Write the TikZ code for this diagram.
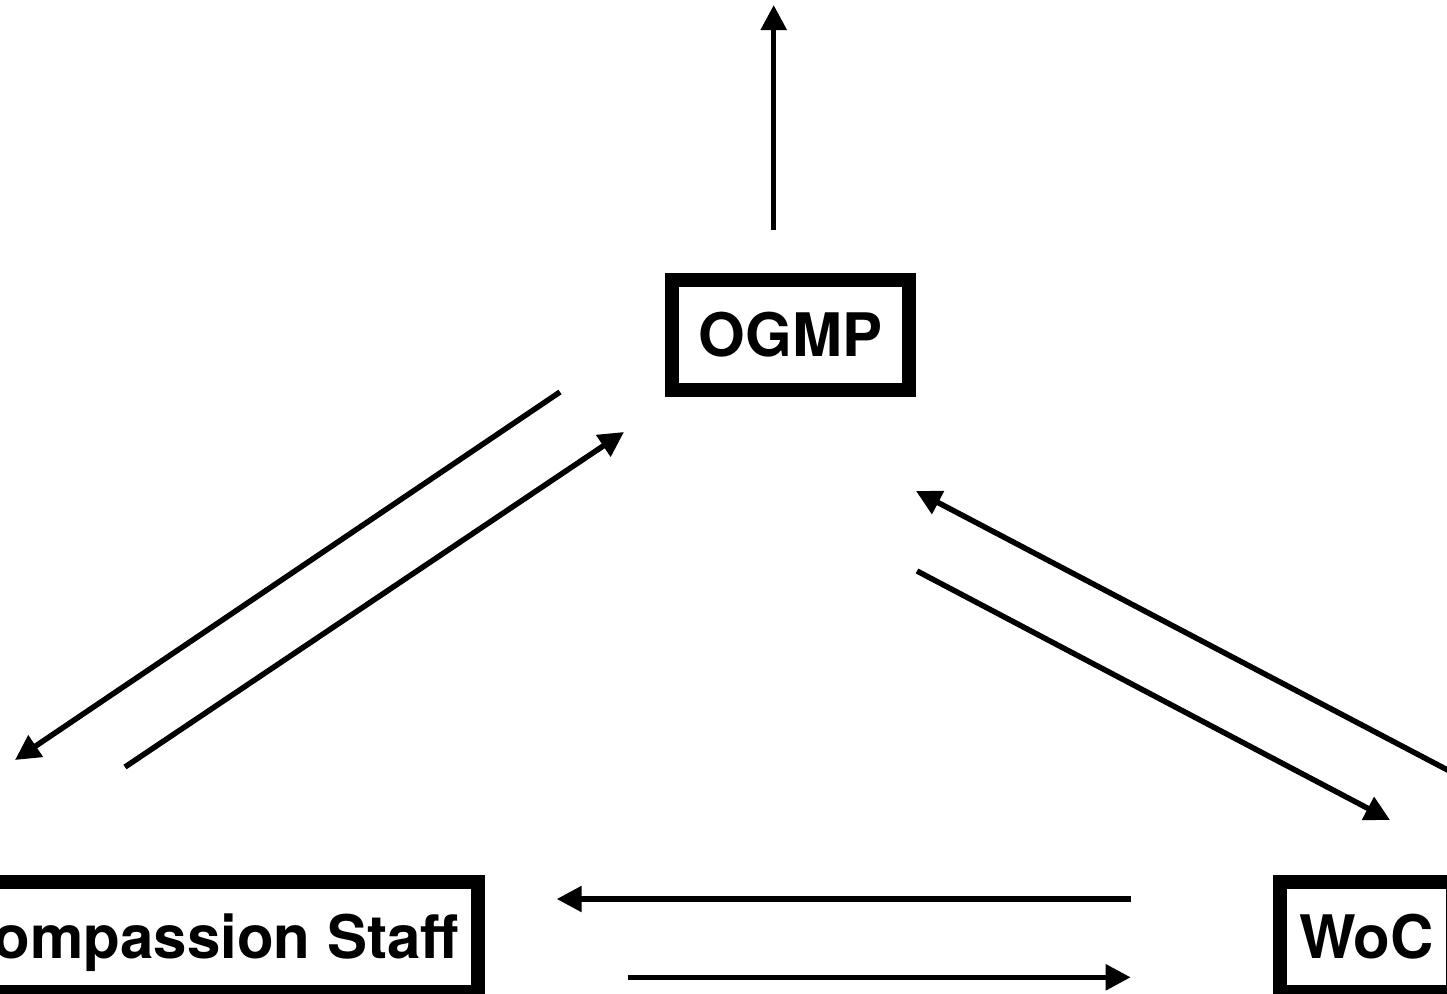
\documentclass[tikz,border=0pt]{standalone}
\usepackage{fontspec}
\setmainfont{TeX Gyre Heros}
\usetikzlibrary{positioning}
\usetikzlibrary{arrows.meta}

\tikzset{
	box/.style={draw, line width=14pt, minimum height=110pt, inner xsep=19pt,
		text height=43pt, text depth=0pt, font=\fontsize{60}{64}\selectfont\bfseries},
	flow/.style={line width=5.5pt, -{Triangle[length=25pt,width=25pt]}}
}

\begin{document}
\begin{tikzpicture}[x=1pt,y=-1pt]
	\clip (0,0) rectangle (1447,993);
	\fill[white] (0,0) rectangle (1447,993);

	\node[box,minimum width=237pt] (ogmp) at (790.5,334.8) {OGMP};
	\node[box,anchor=east] (staff) at (485,937) {Compassion Staff};
	\node[box,anchor=west] (woc) at (1273,937) {WoC};

	% free ends of the arrows
	\coordinate (up0) at (773.7,230);
	\coordinate (up1) at (773.7,5);
	\coordinate (os0) at (560,392);
	\coordinate (os1) at (15,760);
	\coordinate (so0) at (125,767);
	\coordinate (so1) at (624,432);
	\coordinate (wo0) at (1480,787);
	\coordinate (wo1) at (916,491);
	\coordinate (ow0) at (917,571);
	\coordinate (ow1) at (1390,820);
	\coordinate (ws0) at (1130.7,899);
	\coordinate (ws1) at (556.7,899);
	\coordinate (sw0) at (628,977.3);
	\coordinate (sw1) at (1130.7,977.3);

	\draw[flow] (up0) -- (up1);
	\draw[flow] (os0) -- (os1);
	\draw[flow] (so0) -- (so1);
	\draw[flow] (wo0) -- (wo1);
	\draw[flow] (ow0) -- (ow1);
	\draw[flow] (ws0) -- (ws1);
	\draw[flow] (sw0) -- (sw1);
\end{tikzpicture}
\end{document}
